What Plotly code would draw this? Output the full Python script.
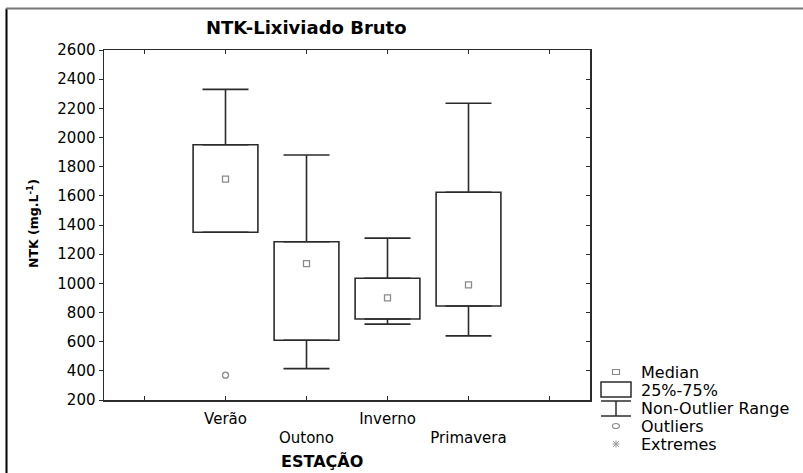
import plotly.graph_objects as go

# ---------------- data ----------------
seasons = ["Verão", "Outono", "Inverno", "Primavera"]
whisker_max = [2330, 1880, 1310, 2235]
q3 = [1950, 1285, 1035, 1625]
median = [1715, 1135, 900, 990]
q1 = [1350, 610, 755, 845]
whisker_min = [1350, 415, 720, 640]
outlier_season = ["Verão"]
outlier_value = [370]
y_ticks = [200, 400, 600, 800, 1000, 1200, 1400, 1600, 1800, 2000, 2200, 2400, 2600]
legend_labels = ["Median", "25%-75%", "Non-Outlier Range", "Outliers", "Extremes"]

# ---------------- layout helpers ----------------
W, H = 803, 473
PL, PR, PT, PB = 104, 590, 50, 400  # plot area in pixels


def px(x):
    return (x - PL) / (PR - PL)


def py(y):
    return (PB - y) / (PB - PT)


FONT = "DejaVu Sans"
LINE = "#2b2b2b"
GRAY = "#8a8a8a"

pos = [i + 1 for i in range(len(seasons))]
out_pos = [seasons.index(s) + 1 for s in outlier_season]

fig = go.Figure()

# boxes (25%-75%)
fig.add_trace(go.Bar(
    x=pos, y=[a - b for a, b in zip(q3, q1)], base=q1, width=0.8,
    marker=dict(color="white", line=dict(color=LINE, width=1.6)),
    showlegend=False, hoverinfo="skip"))

# upper whiskers
fig.add_trace(go.Scatter(
    x=pos, y=q3, mode="markers", marker=dict(size=1, color="rgba(0,0,0,0)"),
    error_y=dict(type="data", symmetric=False,
                 array=[a - b for a, b in zip(whisker_max, q3)],
                 arrayminus=[0] * len(pos), width=23, thickness=1.6, color=LINE),
    showlegend=False, hoverinfo="skip"))

# lower whiskers
fig.add_trace(go.Scatter(
    x=pos, y=q1, mode="markers", marker=dict(size=1, color="rgba(0,0,0,0)"),
    error_y=dict(type="data", symmetric=False,
                 array=[0] * len(pos),
                 arrayminus=[a - b for a, b in zip(q1, whisker_min)],
                 width=23, thickness=1.6, color=LINE),
    showlegend=False, hoverinfo="skip"))

# medians
fig.add_trace(go.Scatter(
    x=pos, y=median, mode="markers",
    marker=dict(symbol="square-open", size=6, color=GRAY, line=dict(width=1.3)),
    showlegend=False, hoverinfo="skip"))

# outliers
fig.add_trace(go.Scatter(
    x=out_pos, y=outlier_value, mode="markers",
    marker=dict(symbol="circle-open", size=6, color=GRAY, line=dict(width=1.3)),
    showlegend=False, hoverinfo="skip"))

# right-side axis (inside ticks, no labels)
fig.add_trace(go.Scatter(x=[None], y=[None], yaxis="y2", showlegend=False))

shapes = []
annotations = []

# outer frame (left and top lines)
shapes.append(dict(type="line", xref="paper", yref="paper",
                   x0=px(6.5), x1=px(6.5), y0=py(8.5), y1=py(473),
                   line=dict(color="black", width=2)))
shapes.append(dict(type="line", xref="paper", yref="paper",
                   x0=px(6), x1=px(803), y0=py(8.5), y1=py(8.5),
                   line=dict(color="#777777", width=2)))

# legend
LX, TX = 616, 639
ly = [372, 390, 408, 426, 444]
shapes.append(dict(type="rect", xref="paper", yref="paper",
                   x0=px(LX - 3.5), x1=px(LX + 3.5), y0=py(ly[0] + 2.5), y1=py(ly[0] - 2.5),
                   line=dict(color=GRAY, width=1.2)))
shapes.append(dict(type="rect", xref="paper", yref="paper",
                   x0=px(601), x1=px(631), y0=py(397), y1=py(382),
                   line=dict(color=LINE, width=1.5)))
for yy in (401, 416):
    shapes.append(dict(type="line", xref="paper", yref="paper",
                       x0=px(601), x1=px(631), y0=py(yy), y1=py(yy),
                       line=dict(color=LINE, width=1.5)))
shapes.append(dict(type="line", xref="paper", yref="paper",
                   x0=px(LX), x1=px(LX), y0=py(401), y1=py(416),
                   line=dict(color=LINE, width=1.5)))
shapes.append(dict(type="circle", xref="paper", yref="paper",
                   x0=px(LX - 3.5), x1=px(LX + 3.5), y0=py(ly[3] + 2.5), y1=py(ly[3] - 2.5),
                   line=dict(color=GRAY, width=1.2)))
for dx, dy in ((3.5, 0), (0, 3.5), (3, 3), (3, -3)):
    shapes.append(dict(type="line", xref="paper", yref="paper",
                       x0=px(LX - dx), x1=px(LX + dx), y0=py(ly[4] - dy), y1=py(ly[4] + dy),
                       line=dict(color="#9a9a9a", width=1)))
for lab, yy in zip(legend_labels, ly):
    annotations.append(dict(text=lab, xref="paper", yref="paper", x=px(TX), y=py(yy),
                            xanchor="left", yanchor="middle", showarrow=False,
                            font=dict(family=FONT, size=16, color="black")))

# title
annotations.append(dict(text="<b>NTK-Lixiviado Bruto</b>", xref="paper", yref="paper",
                        x=px(306), y=py(28), xanchor="center", yanchor="middle",
                        showarrow=False, font=dict(family=FONT, size=18, color="black")))
# x axis title
annotations.append(dict(text="<b>ESTAÇÃO</b>", xref="paper", yref="paper",
                        x=px(322), y=py(461), xanchor="center", yanchor="middle",
                        showarrow=False, font=dict(family=FONT, size=16, color="black")))
# y axis title
annotations.append(dict(text="<b>NTK (mg.L<sup>-1</sup>)</b>", xref="paper", yref="paper",
                        x=px(33), y=py(224), xanchor="center", yanchor="middle",
                        textangle=-90, showarrow=False,
                        font=dict(family=FONT, size=12.5, color="black")))

tick_text = [("<br>" + s) if i % 2 == 1 else s for i, s in enumerate(seasons)]

fig.update_layout(
    width=W, height=H,
    margin=dict(l=PL, r=W - PR, t=PT, b=H - PB),
    paper_bgcolor="white", plot_bgcolor="white",
    showlegend=False,
    font=dict(family=FONT, size=15, color="black"),
    xaxis=dict(range=[-0.5, 5.5], tickmode="array", tickvals=pos,
               ticktext=tick_text, ticks="inside", ticklen=4, tickcolor=LINE,
               ticklabelstandoff=4,
               minor=dict(ticks="inside", ticklen=4, tickcolor=LINE, tick0=0, dtick=1,
                          showgrid=False),
               showline=True, linecolor=LINE, linewidth=1.5, mirror="ticks",
               showgrid=False, zeroline=False, fixedrange=True,
               tickfont=dict(family=FONT, size=15)),
    yaxis=dict(range=[200, 2600], tickmode="array", tickvals=y_ticks,
               ticks="outside", ticklen=4, tickcolor=LINE,
               showline=True, linecolor=LINE, linewidth=1.5,
               showgrid=False, zeroline=False, fixedrange=True,
               tickfont=dict(family=FONT, size=15)),
    yaxis2=dict(range=[200, 2600], overlaying="y", side="right", tickmode="array",
                tickvals=y_ticks, ticks="inside", ticklen=4, tickcolor=LINE,
                showticklabels=False, showline=True, linecolor=LINE, linewidth=1.5,
                showgrid=False, zeroline=False, fixedrange=True),
    bargap=0,
    shapes=shapes,
    annotations=annotations,
)

fig.write_html("out.html",
               config={"displayModeBar": False, "staticPlot": True},
               post_script="document.body.style.margin='0';document.body.style.overflow='hidden';")
